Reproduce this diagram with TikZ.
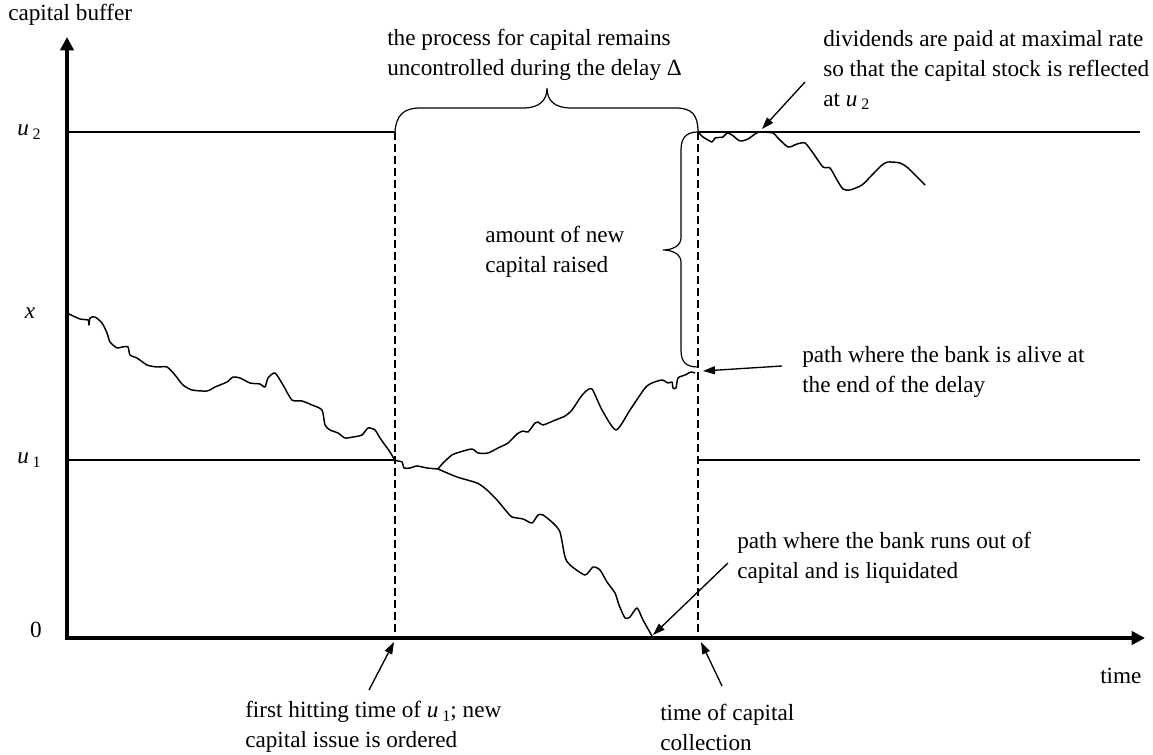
\documentclass[tikz,border=0pt]{standalone}
\usepackage{fontspec}
\setmainfont{Liberation Serif}
\usetikzlibrary{arrows.meta}

% italic u with a lowered index, as in the figure
\newcommand{\usub}[1]{\textit{u}\,\raisebox{-0.35ex}{\fontsize{12}{12}\selectfont #1}}

\tikzset{
	axis/.style={line width=3pt, line cap=rect, -{Triangle[length=10pt,width=10pt]}},
	level/.style={line width=2pt},
	delay/.style={line width=1.5pt, dash pattern=on 6pt off 3pt},
	bm/.style={line width=1.1pt, line join=round},
	brc/.style={line width=0.9pt},
	note/.style={line width=1pt, -{Triangle[length=9pt,width=6pt]}},
	txt/.style={inner sep=0pt, align=left, font=\fontsize{17.4}{22.5}\selectfont},
}

\begin{document}
\begin{tikzpicture}[x=0.75pt,y=0.75pt,yscale=-1,xscale=1]
		\useasboundingbox (0,0) rectangle (1153,755);
		% axes and levels
		\coordinate (O) at (67,638);
		\coordinate (ytop) at (67,37);
		\coordinate (xend) at (1145,638);
		\coordinate (u2L) at (67,132);
		\coordinate (u2R) at (1140,132);
		\coordinate (u1L) at (67,460);
		\coordinate (u1R) at (1140,460);
		\coordinate (hitTop) at (395,132);
		\coordinate (hitU1) at (395,460);
		\coordinate (hitBot) at (395,638);
		\coordinate (colTop) at (698,132);
		\coordinate (colU1) at (698,460);
		\coordinate (colBot) at (698,638);
		\draw [level] (u2L) -- (hitTop);
		\draw [level] (colTop) -- (u2R);
		\draw [level] (u1L) -- (hitU1);
		\draw [level] (colU1) -- (u1R);
		\draw [delay] (hitTop) -- (hitBot);
		\draw [delay] (colTop) -- (colBot);
		\draw [axis] (O) -- (ytop);
		\draw [axis] (O) -- (xend);
		% capital paths
		\draw [bm] plot [smooth, tension=0.4] coordinates {(67,313) (80,319) (88,320) (89,325) (90,318) (95,317) (102,323) (107,333) (110,342) (117,348) (122,347) (128,347) (130,355) (137,358) (147,365) (157,367) (167,367) (175,375) (183,385) (192,390) (207,391) (215,387) (227,382) (233,377) (240,378) (250,383) (260,384) (265,387) (268,378) (275,373) (283,385) (292,400) (302,401) (312,405) (322,410) (325,425) (330,430) (338,433) (345,438) (353,437) (362,435) (368,428) (375,430) (380,438) (390,452) (395,460) (402,462) (404,468) (410,468) (417,466) (427,468) (438,469)};
		\coordinate (split) at (438,469);
		\draw [bm] plot [smooth, tension=0.4] coordinates {(438,469) (443,463) (452,455) (460,452) (472,449) (478,453) (488,453) (498,448) (508,443) (517,434) (523,431) (528,432) (535,423) (538,422) (543,425) (553,421) (565,416) (572,410) (580,398) (585,392) (592,389) (602,410) (616,430) (630,410) (645,388) (652,383) (662,380) (668,383) (672,382) (673,388) (676,388) (678,378) (685,375) (691,372) (695,373)};
		\draw [bm] plot [smooth, tension=0.4] coordinates {(438,469) (457,477) (477,483) (487,490) (497,500) (507,512) (512,517) (523,519) (532,523) (538,515) (543,515) (553,523) (560,532) (565,557) (570,565) (585,575) (593,567) (600,570) (607,582) (615,593) (619,605) (625,618) (630,617) (637,608) (643,620) (652,636)};
		\draw [bm] plot [smooth, tension=0.4] coordinates {(699,133) (703,137) (712,142) (715,138) (723,137) (727,133) (732,135) (740,141) (748,139) (755,134) (760,132) (773,133) (777,137) (788,147) (797,144) (805,143) (813,153) (823,167) (830,168) (837,180) (843,189) (850,190) (862,185) (872,175) (882,165) (888,162) (900,163) (908,168) (925,185)};
		% braces
		\draw [brc] (hitTop) .. controls (396,115) and (404,108) .. (420,108) -- (523,108) .. controls (540,108) and (547,100) .. (547,88) .. controls (547,100) and (554,108) .. (571,108) -- (676,108) .. controls (692,108) and (698,115) .. (colTop);
		\coordinate (aliveEnd) at (698,367);
		\draw [brc] (colTop) .. controls (686,132) and (681,138) .. (681,150) -- (681,238) .. controls (681,246) and (672,250) .. (663,250) .. controls (672,250) and (681,254) .. (681,262) -- (681,350) .. controls (681,362) and (686,367) .. (aliveEnd);
		% labels
		\node [txt, anchor=west] (ylab) at (8,15) {capital buffer};
		\node [txt, anchor=west] (tlab) at (1100,676) {time};
		\node [txt] (lu2) at (29,132) {\usub{2}};
		\node [txt] (lx) at (30,313) {\textit{x}};
		\node [txt] (lu1) at (29,460) {\usub{1}};
		\node [txt] (l0) at (36,630) {0};
		\node [txt, anchor=west] (delaytxt) at (387,55) {the process for capital remains\\uncontrolled during the delay Δ};
		\node [txt, anchor=west] (divtxt) at (823,70) {dividends are paid at maximal rate\\so that the capital stock is reflected\\at \usub{2}};
		\node [txt, anchor=west] (raisetxt) at (485,252) {amount of new\\capital raised};
		\node [txt, anchor=west] (alivetxt) at (802,372) {path where the bank is alive at\\the end of the delay};
		\node [txt, anchor=west] (ruintxt) at (737,558) {path where the bank runs out of\\capital and is liquidated};
		\node [txt, anchor=west] (hittxt) at (245,727) {first hitting time of \usub{1}; new\\capital issue is ordered};
		\node [txt, anchor=west] (coltxt) at (660,727) {time of capital\\collection};
		% pointers
		\coordinate (divFrom) at (805,82);
		\coordinate (divTo) at (762,129);
		\coordinate (aliveFrom) at (782,366);
		\coordinate (aliveTo) at (703,371);
		\coordinate (ruinFrom) at (728,563);
		\coordinate (ruinTo) at (653,635);
		\coordinate (hitFrom) at (369,690);
		\coordinate (hitTo) at (394,642);
		\coordinate (colFrom) at (722,686);
		\coordinate (colTo) at (701,642);
		\draw [note] (divFrom) -- (divTo);
		\draw [note] (aliveFrom) -- (aliveTo);
		\draw [note] (ruinFrom) -- (ruinTo);
		\draw [note] (hitFrom) -- (hitTo);
		\draw [note] (colFrom) -- (colTo);
		\end{tikzpicture}
\end{document}
